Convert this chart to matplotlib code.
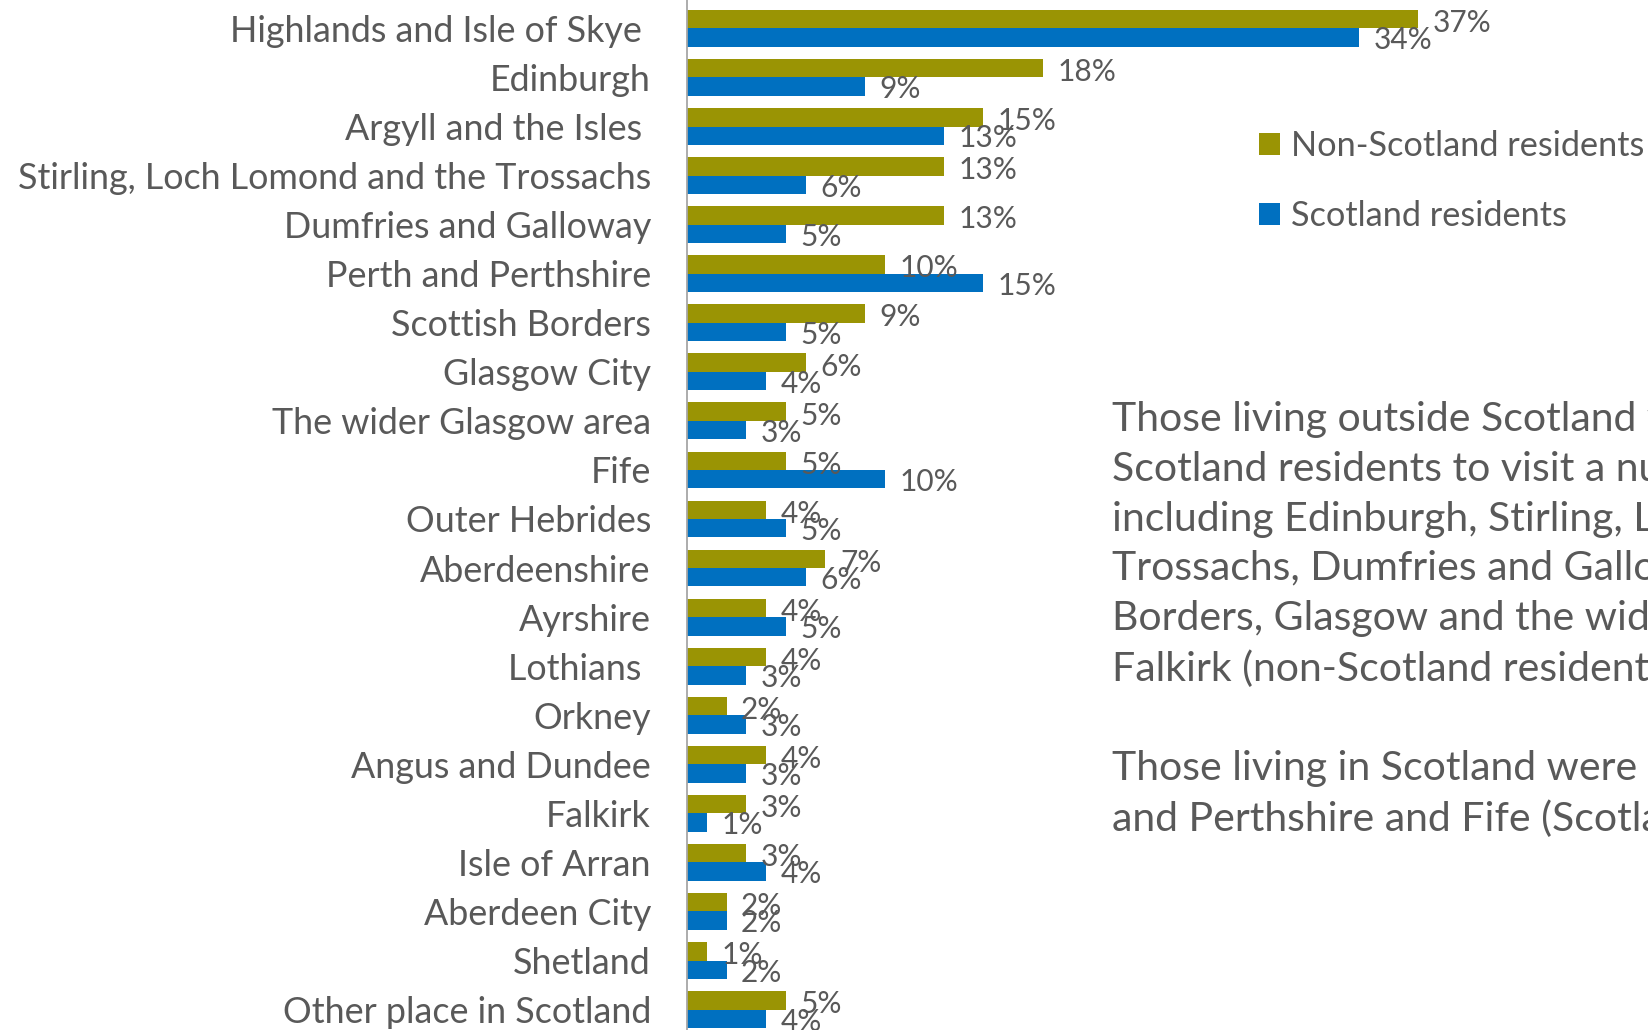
import matplotlib
matplotlib.use("Agg")
import matplotlib.pyplot as plt
from matplotlib.patches import Patch

# Regions visited, in display order (top to bottom)
regions = [
    "Highlands and Isle of Skye ",
    "Edinburgh",
    "Argyll and the Isles ",
    "Stirling, Loch Lomond and the Trossachs",
    "Dumfries and Galloway",
    "Perth and Perthshire",
    "Scottish Borders",
    "Glasgow City",
    "The wider Glasgow area",
    "Fife",
    "Outer Hebrides",
    "Aberdeenshire",
    "Ayrshire",
    "Lothians ",
    "Orkney",
    "Angus and Dundee",
    "Falkirk",
    "Isle of Arran",
    "Aberdeen City",
    "Shetland",
    "Other place in Scotland",
]
non_scotland = [37, 18, 15, 13, 13, 10, 9, 6, 5, 5, 4, 7, 4, 4, 2, 4, 3, 3, 2, 1, 5]
scotland = [34, 9, 13, 6, 5, 15, 5, 4, 3, 10, 5, 6, 5, 3, 3, 3, 1, 4, 2, 2, 4]
series_names = ["Non-Scotland residents", "Scotland residents"]

commentary = (
    "Those living outside Scotland were more likely than\n"
    "Scotland residents to visit a number of areas,\n"
    "including Edinburgh, Stirling, Loch Lomond and the\n"
    "Trossachs, Dumfries and Galloway, the Scottish\n"
    "Borders, Glasgow and the wider Glasgow area and\n"
    "Falkirk (non-Scotland residents).\n"
    "\n"
    "Those living in Scotland were more likely to visit Perth\n"
    "and Perthshire and Fife (Scotland residents)."
)

OLIVE = "#9A9404"
BLUE = "#0070C0"
TEXT = "#595959"
FONT = "Lato"

W, H = 1649, 1030
fig = plt.figure(figsize=(W / 100, H / 100), dpi=100)
fig.patch.set_facecolor("white")

# Axes spans to the figure edges; limits chosen so the chart is cropped
left_px = 687
px_per_pct = 19.76
ax = fig.add_axes([left_px / W, 0, 1 - left_px / W, 1])
ax.set_xlim(0, (W - left_px) / px_per_pct)
row_px = 49.06
top_px = 28.4
ax.set_ylim((H - top_px) / row_px, -top_px / row_px)

bar_h = 0.375
ys = list(range(len(regions)))
ys_ns = [y - bar_h / 2 for y in ys]
ys_s = [y + bar_h / 2 for y in ys]
ax.barh(ys_ns, non_scotland, height=bar_h, color=OLIVE, edgecolor="none")
ax.barh(ys_s, scotland, height=bar_h, color=BLUE, edgecolor="none")

for yy, v in zip(ys_ns, non_scotland):
    ax.annotate(f"{v}%", (v, yy), xytext=(10.5, -2.8), textcoords="offset points",
                ha="left", va="center", fontsize=21.5, color=TEXT, family=FONT)
for yy, v in zip(ys_s, scotland):
    ax.annotate(f"{v}%", (v, yy), xytext=(10.5, -2.0), textcoords="offset points",
                ha="left", va="center", fontsize=21.5, color=TEXT, family=FONT)

ax.set_yticks(ys)
ax.set_yticklabels(regions, fontsize=25.8, color=TEXT, family=FONT)
ax.tick_params(axis="y", length=0, pad=26)
ax.set_xticks([])
for s in ["top", "right", "bottom"]:
    ax.spines[s].set_visible(False)
ax.spines["left"].set_color("#A6A6A6")
ax.spines["left"].set_linewidth(1.3)

handles = [Patch(facecolor=OLIVE, edgecolor="none"), Patch(facecolor=BLUE, edgecolor="none")]
fig.legend(handles, series_names, loc="upper left",
           bbox_to_anchor=(1259 / W, 1 - 130 / H), frameon=False,
           prop={"family": FONT, "size": 24.7}, labelcolor=TEXT,
           handlelength=0.62, handleheight=0.62, handletextpad=0.3,
           labelspacing=1.1, borderaxespad=0, borderpad=0)

fig.text(1112 / W, 1 - 401 / H, commentary, ha="left", va="top",
         fontsize=29.5, color=TEXT, family=FONT, linespacing=1.425)

fig.savefig("out.png", dpi=100)
